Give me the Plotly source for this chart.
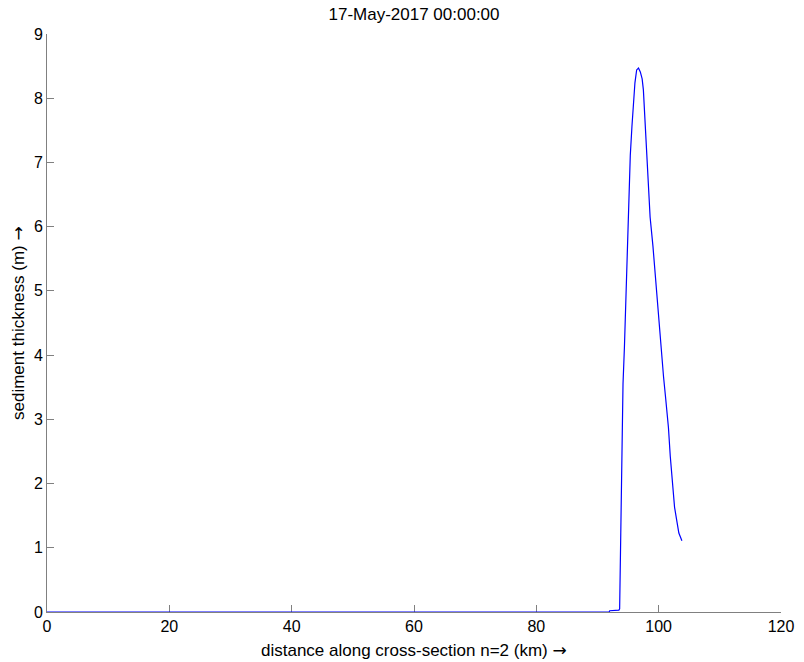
import plotly.graph_objects as go

# Cross-section profile: distance (km) and sediment thickness (m)
distance_km = [
    0.0, 91.9, 92.0, 93.5, 93.62, 93.73, 93.9, 94.0, 94.17, 94.4, 94.55, 94.7,
    94.87, 95.14, 95.36, 95.63, 95.85, 96.12, 96.4, 96.7, 97.0, 97.3, 97.5,
    97.8, 98.08, 98.35, 98.6, 99.06, 99.4, 99.78, 100.15, 100.4, 100.8,
    101.15, 101.6, 101.9, 102.35, 102.6, 103.0, 103.3, 103.8,
]
thickness_m = [
    0.0, 0.0, 0.02, 0.03, 0.05, 0.84, 1.68, 2.36, 3.55, 4.12, 4.62, 5.30,
    5.87, 6.60, 7.11, 7.56, 7.90, 8.24, 8.44, 8.47, 8.41, 8.30, 8.13,
    7.62, 7.05, 6.60, 6.15, 5.70, 5.30, 4.79, 4.34, 4.00, 3.66,
    3.32, 2.87, 2.42, 1.97, 1.63, 1.40, 1.23, 1.11,
]

x_ticks = [0, 20, 40, 60, 80, 100, 120]
y_ticks = [0, 1, 2, 3, 4, 5, 6, 7, 8, 9]

title_text = "17-May-2017 00:00:00"
ARROW = "<span style=\"font-family:'DejaVu Sans'\">→</span>"
x_label = "distance along cross-section n=2 (km) " + ARROW
y_label = "sediment thickness (m) " + ARROW

FONT = "Liberation Sans, Arial, Helvetica, sans-serif"
AXIS_GREY = "#808080"

W, H = 804, 662
M_L, M_R, M_T, M_B = 47, 23, 34, 50
plot_w = W - M_L - M_R
plot_h = H - M_T - M_B

fig = go.Figure(
    go.Scatter(
        x=distance_km,
        y=thickness_m,
        mode="lines",
        line=dict(color="#0000ff", width=1.2),
        showlegend=False,
        hoverinfo="x+y",
    )
)

axis_common = dict(
    showgrid=False,
    zeroline=False,
    showline=True,
    linecolor=AXIS_GREY,
    linewidth=1,
    ticks="inside",
    ticklen=7,
    tickwidth=1,
    tickcolor=AXIS_GREY,
    tickfont=dict(family=FONT, size=16, color="#000000"),
    mirror=False,
    layer="below traces",
    automargin=False,
)

fig.update_layout(
    width=W,
    height=H,
    margin=dict(l=M_L, r=M_R, t=M_T, b=M_B),
    paper_bgcolor="white",
    plot_bgcolor="white",
    font=dict(family=FONT, size=16, color="#000000"),
    title=dict(
        text=title_text,
        x=0.5,
        xref="paper",
        y=1 - 14 / H,
        yref="container",
        yanchor="middle",
        font=dict(family=FONT, size=17, color="#000000"),
    ),
    xaxis=dict(
        range=[0, 120],
        tickvals=x_ticks,
        ticktext=[str(v) for v in x_ticks],
        **axis_common,
    ),
    yaxis=dict(
        range=[0, 9],
        tickvals=y_ticks,
        ticktext=[str(v) for v in y_ticks],
        **axis_common,
    ),
    annotations=[
        # x-axis label, below the tick labels
        dict(
            text=x_label,
            xref="paper", yref="paper",
            x=0.5, y=-38 / plot_h,
            xanchor="center", yanchor="middle",
            showarrow=False,
            font=dict(family=FONT, size=17, color="#000000"),
        ),
        # y-axis label, rotated, left of the tick labels
        dict(
            text=y_label,
            xref="paper", yref="paper",
            x=-29 / plot_w, y=0.5,
            xanchor="center", yanchor="middle",
            textangle=-90,
            showarrow=False,
            font=dict(family=FONT, size=17, color="#000000"),
        ),
    ],
)

fig.write_html("out.html")
